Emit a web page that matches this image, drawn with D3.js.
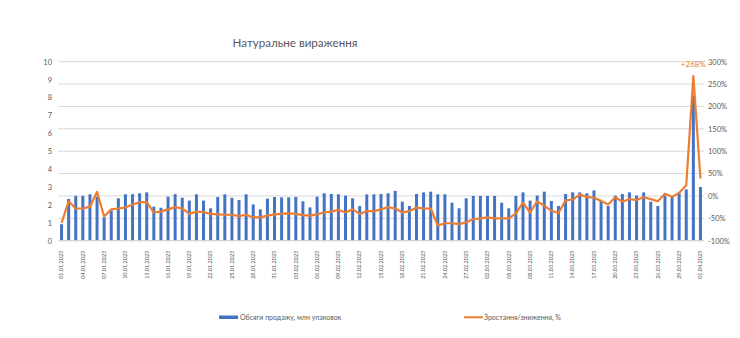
<!DOCTYPE html>
<html><head><meta charset="utf-8">
<script src="https://cdn.jsdelivr.net/npm/d3@7"></script>
<style>
html,body{margin:0;padding:0;background:#fff;}
svg{display:block;font-family:Lato,"Open Sans",sans-serif;}
</style></head>
<body><svg id="c" width="740" height="338"></svg>
<script>
const title = "Натуральне вираження";
const seriesBarName = "Обсяги продажу, млн упаковок";
const seriesLineName = "Зростання/зниження, %";
const startDate = "2023-01-01", endDate = "2023-04-02";
const leftTicks = [0,1,2,3,4,5,6,7,8,9,10];
const rightTicks = [-100,-50,0,50,100,150,200,250,300];
const salesValues = [0.92,2.33,2.51,2.51,2.59,2.45,1.3,1.68,2.37,2.59,2.6,2.65,2.7,1.9,1.84,2.46,2.6,2.4,2.24,2.59,2.24,1.81,2.44,2.59,2.4,2.27,2.59,2.03,1.75,2.35,2.44,2.42,2.42,2.45,2.2,1.86,2.46,2.65,2.61,2.59,2.52,2.37,1.94,2.59,2.59,2.61,2.65,2.78,2.18,1.94,2.61,2.7,2.74,2.59,2.59,2.12,1.81,2.37,2.5,2.5,2.5,2.5,2.12,1.81,2.5,2.7,2.24,2.52,2.74,2.22,1.94,2.61,2.7,2.7,2.65,2.81,2.22,1.94,2.52,2.61,2.7,2.52,2.7,2.18,1.94,2.51,2.46,2.65,2.87,8.1,3.0];
const changeValues = [-60,-12,-28,-28,-24,9,-46,-30,-28,-26,-19,-14,-14,-37,-35,-30,-25,-28,-40,-35,-36,-40,-41,-42,-42,-45,-42,-48,-48,-44,-41,-40,-39,-40,-43,-44,-41,-37,-35,-31,-37,-30,-40,-34,-34,-30,-25,-28,-37,-34,-26,-28,-28,-66,-61,-61,-63,-59,-52,-50,-48,-50,-50,-50,-39,-15,-37,-12,-22,-33,-38,-10,-8,3,-2,-4,-11,-19,-3,-13,-7,-9,-3,-7,-12,5,-2,7,24,268,39];
const peakLabel = "+268%";

const fmt = d3.timeFormat("%d.%m.%Y");
const categories = d3.timeDays(new Date(startDate+"T00:00:00"), new Date(endDate+"T00:00:00")).map(fmt);

const svg = d3.select("#c");
const L = 58, R = 704, T = 61.7, B = 240.7;
const x = d3.scaleBand().domain(categories).range([L, R]).paddingInner(0.58).paddingOuter(0.29);
const yL = d3.scaleLinear().domain([0,10]).range([B, T]);
const yR = d3.scaleLinear().domain([-100,300]).range([B, T]);
const cx = d => x(d) + x.bandwidth()/2;

// title
svg.append("text").attr("x", 295).attr("y", 47).attr("text-anchor","middle")
  .attr("font-size", 11.6).attr("fill", "#595959").text(title);

// gridlines (right axis)
svg.append("g").selectAll("line").data(rightTicks).join("line")
  .attr("x1", L).attr("x2", R).attr("y1", d => yR(d)).attr("y2", d => yR(d))
  .attr("stroke", "#d9d9d9").attr("stroke-width", 1);

// left axis
const gl = svg.append("g").attr("transform", `translate(${L-4},0)`)
  .call(d3.axisLeft(yL).tickValues(leftTicks).tickSize(0).tickPadding(2));
gl.select(".domain").remove();
gl.selectAll("text").attr("font-size", 7.5).attr("fill", "#595959").attr("font-family","Lato,sans-serif");

// right axis
const gr = svg.append("g").attr("transform", `translate(${R},0)`)
  .call(d3.axisRight(yR).tickValues(rightTicks).tickSize(0).tickPadding(4).tickFormat(d => d + "%"));
gr.select(".domain").remove();
gr.selectAll("text").attr("font-size", 7.5).attr("fill", "#595959").attr("font-family","Lato,sans-serif");

// bars
svg.append("g").selectAll("rect").data(salesValues).join("rect")
  .attr("x", (d,i) => x(categories[i])).attr("width", x.bandwidth())
  .attr("y", d => yL(d)).attr("height", d => yL(0) - yL(d))
  .attr("fill", "#4472C4");

// x axis
svg.append("line").attr("x1", L).attr("x2", R).attr("y1", B).attr("y2", B)
  .attr("stroke", "#d9d9d9");
const xa = svg.append("g").attr("transform", `translate(0,${B})`)
  .call(d3.axisBottom(x).tickValues(categories.filter((d,i) => i % 3 === 0)).tickSize(0).tickPadding(0));
xa.select(".domain").remove();
xa.selectAll("text").attr("font-size", 5.5).attr("fill", "#595959").attr("font-family","Lato,sans-serif")
  .attr("transform", "rotate(-90)").attr("text-anchor", "end").attr("x", -10).attr("y", 0).attr("dy", "0.32em");

// line
const line = d3.line().x((d,i) => cx(categories[i])).y(d => yR(d));
svg.append("path").datum(changeValues).attr("d", line)
  .attr("fill", "none").attr("stroke", "#ED7D31").attr("stroke-width", 2.2).attr("stroke-linejoin", "round");

// peak label
const pi = changeValues.indexOf(d3.max(changeValues));
svg.append("text").attr("x", cx(categories[pi])).attr("y", yR(changeValues[pi]) - 9)
  .attr("text-anchor", "middle").attr("font-size", 8).attr("fill", "#ED7D31").text(peakLabel);

// legend
const lg = svg.append("g");
lg.append("rect").attr("x", 219).attr("y", 315.5).attr("width", 19).attr("height", 3.5).attr("fill", "#4472C4");
lg.append("text").attr("x", 240).attr("y", 317.5).attr("dy","0.35em").attr("font-size", 7).attr("fill", "#595959").text(seriesBarName);
lg.append("line").attr("x1", 464).attr("x2", 483).attr("y1", 317.3).attr("y2", 317.3).attr("stroke", "#ED7D31").attr("stroke-width", 2);
lg.append("text").attr("x", 484).attr("y", 317.5).attr("dy","0.35em").attr("font-size", 7).attr("fill", "#595959").text(seriesLineName);
</script></body></html>
